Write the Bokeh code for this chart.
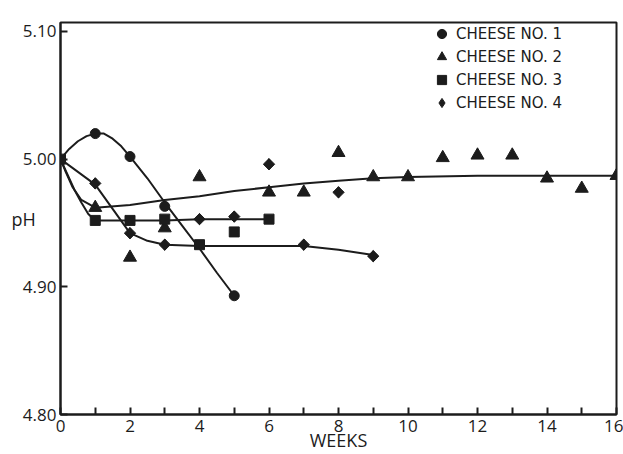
from bokeh.plotting import figure
from bokeh.models import Range1d, FixedTicker, Legend, LegendItem
from bokeh.embed import file_html
from bokeh.resources import INLINE
import math

# ---- data ----
weeks1 = [1, 2, 3, 5]
ph1 = [5.020, 5.002, 4.963, 4.893]
weeks2 = [1, 2, 3, 4, 6, 7, 8, 9, 10, 11, 12, 13, 14, 15, 16]
ph2 = [4.962, 4.923, 4.946, 4.986, 4.974, 4.974, 5.005, 4.986, 4.986,
       5.001, 5.003, 5.003, 4.985, 4.977, 4.987]
weeks3 = [0, 1, 2, 3, 4, 5, 6]
ph3 = [5.000, 4.952, 4.952, 4.953, 4.933, 4.943, 4.953]
weeks4 = [1, 2, 3, 4, 5, 6, 7, 8, 9]
ph4 = [4.981, 4.942, 4.933, 4.953, 4.955, 4.996, 4.933, 4.974, 4.924]

# hand-drawn fitted curves
curve1_x = [0, 0.25, 0.5, 0.75, 1, 1.25, 1.5, 1.75, 2, 2.5, 3, 3.5, 4, 4.5, 5]
curve1_y = [5.000, 5.008, 5.014, 5.018, 5.020, 5.020, 5.016, 5.010, 5.002,
            4.985, 4.966, 4.948, 4.930, 4.911, 4.893]
curve2_x = [0, 0.15, 0.35, 0.6, 1, 2, 3, 4, 5, 6, 7, 8, 9, 10, 12, 14, 16]
curve2_y = [5.000, 4.990, 4.978, 4.968, 4.962, 4.964, 4.968, 4.971, 4.975,
            4.978, 4.981, 4.983, 4.985, 4.986, 4.987, 4.987, 4.987]
curve3_x = [0, 0.2, 0.4, 0.6, 0.8, 1, 2, 3, 4, 5, 6]
curve3_y = [5.000, 4.988, 4.976, 4.966, 4.957, 4.952, 4.952, 4.952, 4.953,
            4.953, 4.953]
curve4_x = [0, 1, 2, 2.5, 3, 4, 5, 6, 7, 8, 9]
curve4_y = [5.000, 4.980, 4.942, 4.936, 4.933, 4.932, 4.932, 4.932, 4.932,
            4.929, 4.925]

series_names = ["CHEESE NO. 1", "CHEESE NO. 2", "CHEESE NO. 3", "CHEESE NO. 4"]

x_ticks = [0, 2, 4, 6, 8, 10, 12, 14, 16]
x_tick_labels = ["0", "2", "4", "6", "8", "10", "12", "14", "16"]
x_minor = [1, 3, 5, 7, 9, 11, 13, 15]
y_ticks = [4.80, 4.90, 5.00, 5.10]
y_tick_labels = ["4.80", "4.90", "5.00", "5.10"]

INK = "#1c1c1c"
TICK_FONT = "Open Sans"
LEG_FONT = "DejaVu Sans"

p = figure(width=623, height=454, output_backend="svg", toolbar_location=None,
           x_range=Range1d(0, 16), y_range=Range1d(4.80, 5.107),
           min_border_left=60, min_border_right=7, min_border_top=22,
           min_border_bottom=39)
p.background_fill_color = "white"
p.border_fill_color = "white"
p.grid.visible = False
p.outline_line_color = INK
p.outline_line_width = 2

# axes
for ax in (p.xaxis[0], p.yaxis[0]):
    ax.axis_line_color = INK
    ax.axis_line_width = 2
    ax.major_tick_line_color = INK
    ax.major_tick_line_width = 2
    ax.major_tick_in = 7
    ax.major_tick_out = 0
    ax.major_label_text_font = TICK_FONT
    ax.major_label_text_font_size = "17px"
    ax.major_label_text_color = INK
    ax.axis_label_text_font = TICK_FONT
    ax.axis_label_text_font_size = "18px"
    ax.axis_label_text_font_style = "normal"
    ax.axis_label_text_color = INK

p.xaxis.ticker = FixedTicker(ticks=x_ticks, minor_ticks=x_minor)
p.xaxis.major_label_overrides = dict(zip(x_ticks, x_tick_labels))
p.xaxis.minor_tick_line_color = INK
p.xaxis.minor_tick_line_width = 2
p.xaxis.minor_tick_in = 7
p.xaxis.minor_tick_out = 0
p.xaxis.major_label_standoff = 5
p.xaxis.axis_label = "WEEKS"
p.xaxis.axis_label_standoff = -7

p.yaxis.ticker = FixedTicker(ticks=y_ticks, minor_ticks=[])
p.yaxis.major_label_overrides = dict(zip(y_ticks, y_tick_labels))
p.yaxis.minor_tick_line_color = None
p.yaxis.major_label_standoff = 4
p.yaxis.axis_label = "pH"
if hasattr(p.yaxis[0], "axis_label_orientation"):
    p.yaxis.axis_label_orientation = "horizontal"
    p.yaxis.axis_label_standoff = -16

# curves
for cx, cy in ((curve1_x, curve1_y), (curve2_x, curve2_y),
               (curve3_x, curve3_y), (curve4_x, curve4_y)):
    p.line(cx, cy, line_color=INK, line_width=2)

# markers
r1 = p.scatter(weeks1, ph1, marker="circle", size=10, fill_color=INK, line_color=INK)
r2 = p.scatter(weeks2, ph2, marker="triangle", size=13, fill_color=INK, line_color=INK)
r3 = p.scatter(weeks3, ph3, marker="square", size=10, fill_color=INK, line_color=INK)
# diamonds: a diamond marker (used as legend key) covered by a rotated square
r4_key = p.scatter(weeks4, ph4, marker="diamond", size=11, fill_color=INK, line_color=INK)
r4 = p.scatter(weeks4, ph4, marker="square", size=8, angle=math.pi / 4,
               fill_color=INK, line_color=INK)

legend = Legend(items=[LegendItem(label=n, renderers=[r])
                       for n, r in zip(series_names, (r1, r2, r3, r4_key))],
                location=(370, 300), orientation="vertical",
                border_line_color=None, background_fill_alpha=0,
                padding=0, spacing=0, margin=0,
                glyph_width=23, glyph_height=23, label_height=23,
                label_standoff=3, label_text_font=LEG_FONT,
                label_text_font_size="15px", label_text_color=INK)
p.add_layout(legend)

open("out.html", "w").write(file_html(p, INLINE))
